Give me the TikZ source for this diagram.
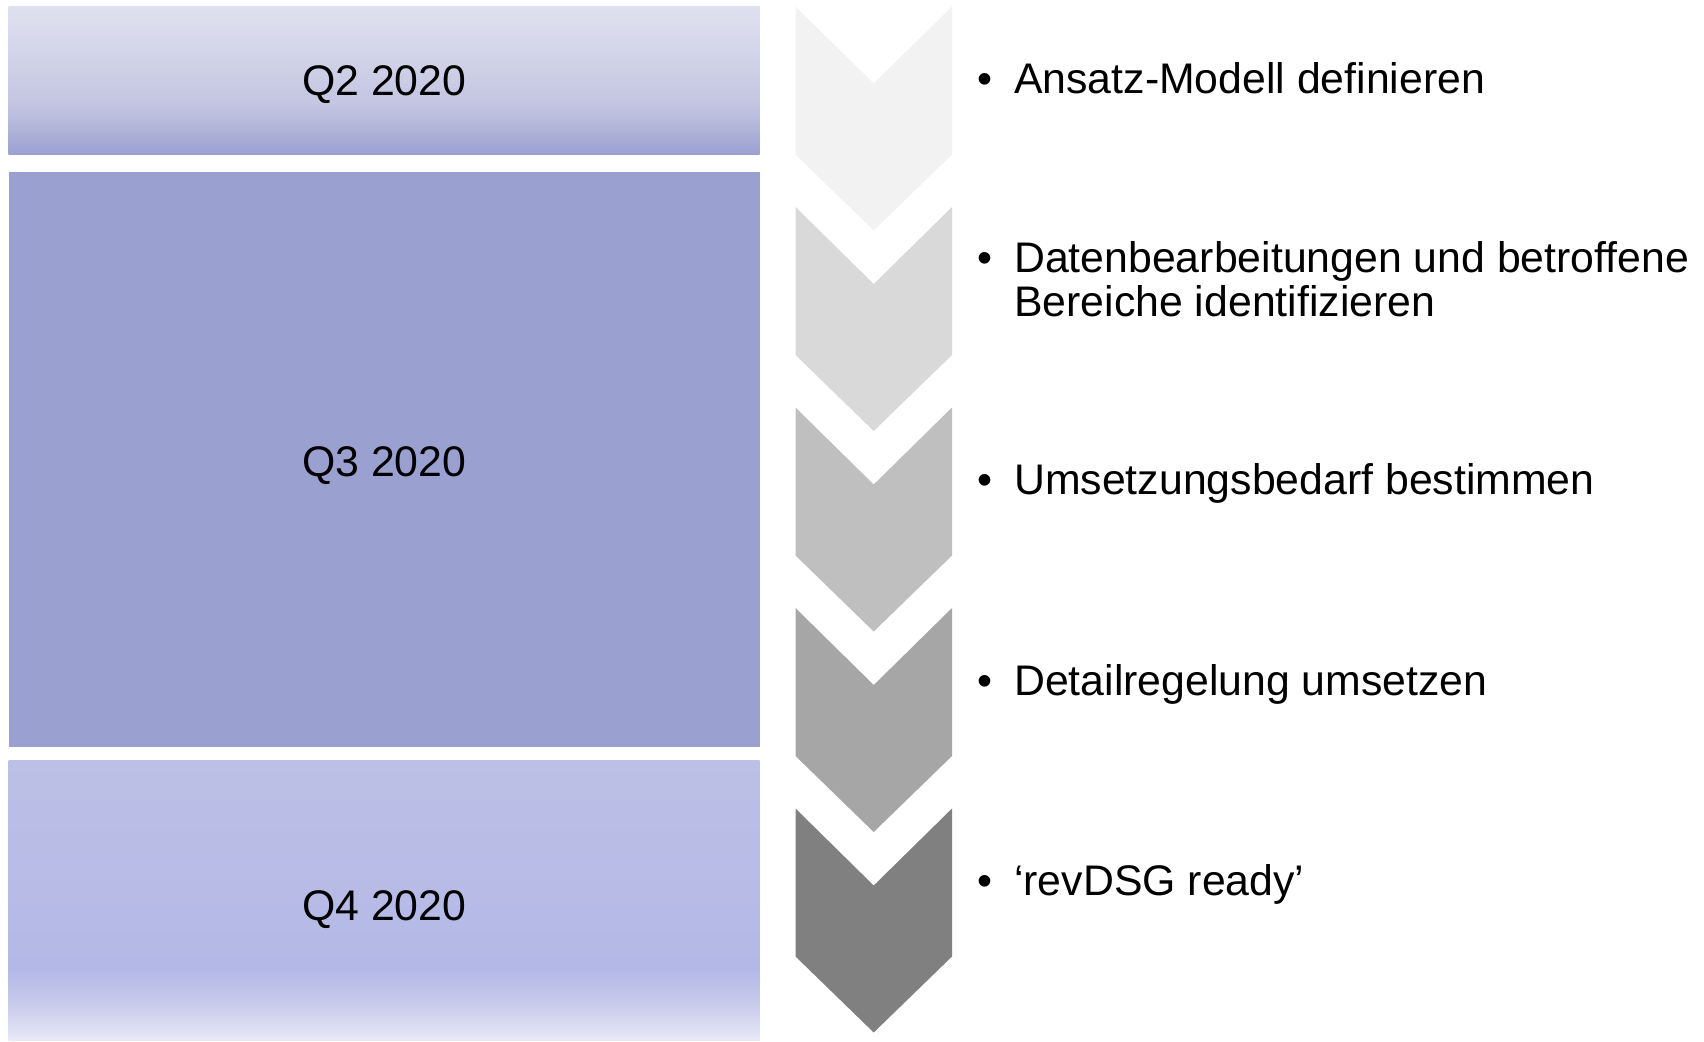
\documentclass[tikz,border=0pt]{standalone}
\usepackage{fontspec}
\setmainfont{Liberation Sans}
\definecolor{qdark}{HTML}{9AA0D0}
\definecolor{qtwoT}{HTML}{E0E1EF}
\definecolor{qtwoM}{HTML}{C4C6E2}
\definecolor{qtwoB}{HTML}{AEB2D8}
\definecolor{qfourT}{HTML}{BCC0E6}
\definecolor{qfourM}{HTML}{B4B8E6}
\definecolor{qfourL}{HTML}{CACDEC}
\definecolor{qfourB}{HTML}{E8E9F6}
\definecolor{chA}{HTML}{F2F2F2}
\definecolor{chB}{HTML}{D9D9D9}
\definecolor{chC}{HTML}{BFBFBF}
\definecolor{chD}{HTML}{A6A6A6}
\definecolor{chE}{HTML}{808080}
\pgfdeclareverticalshading{qtwoshade}{100bp}{color(0bp)=(qdark); color(25bp)=(qdark); color(32.5bp)=(qtwoB); color(42.5bp)=(qtwoM); color(75bp)=(qtwoT); color(100bp)=(qtwoT)}
\pgfdeclareverticalshading{qfourshade}{100bp}{color(0bp)=(qfourB); color(25bp)=(qfourB); color(31bp)=(qfourL); color(37.5bp)=(qfourM); color(75bp)=(qfourT); color(100bp)=(qfourT)}
\tikzset{
  qbox/.style={inner sep=0pt, outer sep=0pt, minimum width=751pt},
  qlabel/.style={inner sep=0pt, font=\fontsize{42.8}{44}\selectfont},
  chev/.style={draw=none},
  item/.style={anchor=base west, inner sep=0pt, outer sep=0pt, font=\fontsize{42.8}{43.5}\selectfont}
}
\newcommand{\mychev}[3]{% #1 top y, #2 colour, #3 name
  \fill[chev, fill=#2] (795.5,#1) -- (873.7,#1+77) -- (952,#1) -- (952,#1+148) -- (873.7,#1+224) -- (795.5,#1+148) -- cycle;
  \coordinate (#3) at (873.7,#1+112);
}
\begin{document}
\begin{tikzpicture}[x=1pt,y=-1pt]
\useasboundingbox (0,0) rectangle (1704,1041);
% quarter boxes
\node[qbox, shading=qtwoshade, minimum height=147.8pt] (q2) at (384.2,80.4) {};
\node[qbox, fill=qdark, minimum height=575pt] (q3) at (384.2,459.2) {};
\node[qbox, shading=qfourshade, minimum height=279.5pt] (q4) at (384.2,900.5) {};
\node[qlabel, yshift=-4.5pt] (q2t) at (q2.center) {Q2 2020};
\node[qlabel, yshift=-6.5pt] (q3t) at (q3.center) {Q3 2020};
\node[qlabel, yshift=-8.7pt] (q4t) at (q4.center) {Q4 2020};
% chevrons
\mychev{6.5}{chA}{c1}
\mychev{207}{chB}{c2}
\mychev{407.5}{chC}{c3}
\mychev{608}{chD}{c4}
\mychev{808.5}{chE}{c5}
% items
\node[item] (t1) at (977.2,93.5) {\begin{tabular}[t]{@{}l@{\hspace{22pt}}l@{}}•&Ansatz-Modell definieren\end{tabular}};
\node[item] (t2) at (977.2,272.8) {\begin{tabular}[t]{@{}l@{\hspace{22pt}}l@{}}•&Datenbearbeitungen und betroffene\\&Bereiche identifizieren\end{tabular}};
\node[item] (t3) at (977.2,494.5) {\begin{tabular}[t]{@{}l@{\hspace{22pt}}l@{}}•&Umsetzungsbedarf bestimmen\end{tabular}};
\node[item] (t4) at (977.2,695.5) {\begin{tabular}[t]{@{}l@{\hspace{22pt}}l@{}}•&Detailregelung umsetzen\end{tabular}};
\node[item] (t5) at (977.2,895) {\begin{tabular}[t]{@{}l@{\hspace{22pt}}l@{}}•&‘revDSG ready’\end{tabular}};
\end{tikzpicture}
\end{document}
